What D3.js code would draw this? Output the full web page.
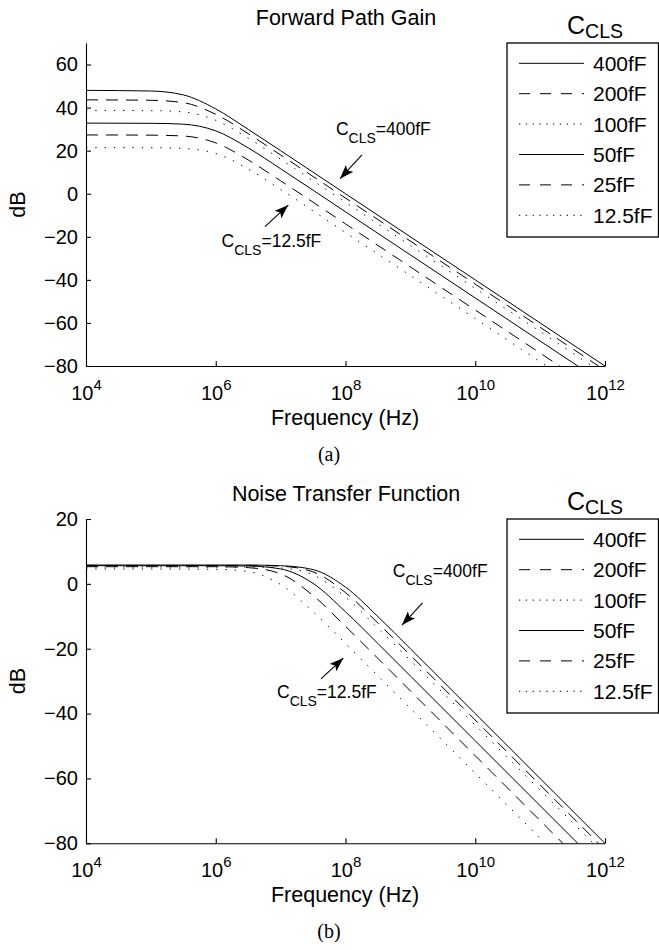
<!DOCTYPE html>
<html>
<head>
<meta charset="utf-8">
<script src="https://cdn.jsdelivr.net/npm/d3@7"></script>
<style>
  body { margin: 0; background: #fff; }
  text { font-family: "Liberation Sans", Arial, Helvetica, sans-serif; fill: #000; }
</style>
</head>
<body>
<svg id="chart" width="659" height="950"></svg>
<script>
// DATA
const capLabels = ['400fF', '200fF', '100fF', '50fF', '25fF', '12.5fF'];
const freqTicks = [1e4, 1e6, 1e8, 1e10, 1e12];

// (a) forward path gain, dB at 10^fwdExp Hz
const fwdExp = [4, 5, 5.5, 6, 6.5, 7, 8, 10, 12];
const fwd400 = [48.0, 47.7, 45.9, 39.4, 29.9, 20.0, 0.0, -40.0, -80.0];
const fwd200 = [43.6, 43.4, 42.3, 36.9, 27.9, 18.0, -2.0, -42.0, -82.0];
const fwd100 = [38.7, 38.6, 38.0, 34.1, 25.8, 16.0, -4.0, -44.0, -84.0];
const fwd50 = [32.8, 32.7, 32.3, 29.2, 21.3, 11.6, -8.4, -48.4, -88.4];
const fwd25 = [27.3, 27.2, 26.8, 23.6, 15.7, 6.0, -14.0, -54.0, -94.0];
const fwd12 = [21.4, 21.4, 21.0, 18.7, 11.5, 2.0, -18.0, -58.0, -98.0];
const fwdTicks = [-80, -60, -40, -20, 0, 20, 40, 60];

// (b) noise transfer function
const ntfExp = [4, 6, 6.5, 7, 7.5, 8, 8.5, 9, 10, 12];
const ntf400 = [5.8, 5.8, 5.8, 5.6, 4.4, -1.0, -10.1, -20.0, -40.0, -80.0];
const ntf200 = [5.7, 5.7, 5.7, 5.45, 3.7, -2.7, -12.1, -22.0, -42.0, -82.0];
const ntf100 = [5.2, 5.2, 5.2, 4.9, 2.75, -4.1, -13.7, -23.6, -43.6, -83.6];
const ntf50 = [5.6, 5.6, 5.5, 4.6, 0.15, -8.6, -18.4, -28.4, -48.4, -88.4];
const ntf25 = [5.3, 5.3, 5.0, 3.1, -3.6, -13.1, -23.0, -33.0, -53.0, -93.0];
const ntf12 = [4.6, 4.5, 3.8, -0.2, -8.6, -18.4, -28.4, -38.4, -58.4, -98.4];
const ntfTicks = [-80, -60, -40, -20, 0, 20];

// annotations: text anchor and arrow (from -> to), in log10(Hz) / dB
const fwdNotes = [
  { label: '400fF', tx: 7.853, ty: 27.3, fx: 8.254, fy: 18.0, ax: 7.915, ay: 7.0 },
  { label: '12.5fF', tx: 6.09, ty: -24.6, fx: 6.759, fy: -15.3, ax: 7.118, ay: -5.25 }
];
const ntfNotes = [
  { label: '400fF', tx: 8.729, ty: 2.0, fx: 9.187, fy: -5.9, ax: 8.871, ay: -12.7 },
  { label: '12.5fF', tx: 6.944, ty: -35.3, fx: 7.622, fy: -29.3, ax: 7.966, ay: -22.9 }
];

// line styles per series
const plotDash = [null, '12,8', '1.3,8', null, '12,8', '1.3,8'];
const legendDash = [null, '11,10', '1.3,5.5', null, '11,10', '1.3,5.5'];

const svg = d3.select('#chart');
const defs = svg.append('defs');
defs.append('marker')
  .attr('id', 'arrow')
  .attr('viewBox', '0 0 14 10')
  .attr('refX', 14)
  .attr('refY', 5)
  .attr('markerUnits', 'userSpaceOnUse')
  .attr('markerWidth', 14)
  .attr('markerHeight', 10)
  .attr('orient', 'auto')
  .append('path')
    .attr('d', 'M0,0 L14,5 L0,10 L3,5 Z')
    .attr('fill', '#000');

const plotLeft = 86;
const plotRight = 605;

const drawPanel = ({ id, top, bottom, yDomain, yTicks, title, caption, freqExp, series, notes }) => {
  const x = d3.scaleLog().domain([1e4, 1e12]).range([plotLeft, plotRight]);
  const y = d3.scaleLinear().domain(yDomain).range([bottom, top]);
  const g = svg.append('g');

  defs.append('clipPath').attr('id', 'clip-' + id)
    .append('rect')
      .attr('x', plotLeft).attr('y', top)
      .attr('width', plotRight - plotLeft).attr('height', bottom - top);

  // curves
  const line = d3.line()
    .x((d, i) => x(10 ** freqExp[i]))
    .y(d => y(d))
    .curve(d3.curveMonotoneX);

  g.append('g')
    .attr('clip-path', `url(#clip-${id})`)
    .selectAll('path')
    .data(series)
    .enter()
    .append('path')
      .attr('d', line)
      .attr('fill', 'none')
      .attr('stroke', '#000')
      .attr('stroke-width', 1)
      .attr('stroke-dasharray', (d, i) => plotDash[i]);

  // axes
  const yAxis = d3.axisLeft(y).tickValues(yTicks).tickSizeInner(-5).tickSizeOuter(0).tickPadding(8)
    .tickFormat(d => d < 0 ? '\u2212' + Math.abs(d) : d);
  g.append('g')
    .attr('transform', `translate(${plotLeft},0)`)
    .call(yAxis)
    .call(a => a.selectAll('text').attr('font-size', 20).attr('font-family', null))
    .call(a => a.selectAll('path, line').attr('stroke', '#000').attr('stroke-width', 1.1));

  const xAxis = d3.axisBottom(x).tickValues(freqTicks).tickSizeInner(-5).tickSizeOuter(0);
  const xa = g.append('g')
    .attr('transform', `translate(0,${bottom})`)
    .call(xAxis)
    .call(a => a.selectAll('path, line').attr('stroke', '#000').attr('stroke-width', 1.1));
  xa.selectAll('.tick text').remove();
  const lbl = xa.selectAll('.tick').append('text')
    .attr('y', 34)
    .attr('text-anchor', 'middle')
    .attr('font-family', null)
    .attr('font-size', 20);
  lbl.append('tspan').text('10');
  lbl.append('tspan').attr('dy', -10).attr('font-size', 15).text(d => Math.round(Math.log10(d)));

  // labels
  svg.append('text')
    .attr('x', 346).attr('y', top - 18)
    .attr('text-anchor', 'middle')
    .attr('font-size', 21.5)
    .text(title);
  svg.append('text')
    .attr('x', 345).attr('y', bottom + 58.5)
    .attr('text-anchor', 'middle')
    .attr('font-size', 21.5)
    .text('Frequency (Hz)');
  svg.append('text')
    .attr('transform', `translate(25,${(top + bottom) / 2}) rotate(-90)`)
    .attr('text-anchor', 'middle')
    .attr('font-size', 21.5)
    .text('dB');
  svg.append('text')
    .attr('x', 329).attr('y', bottom + 95)
    .attr('text-anchor', 'middle')
    .attr('font-size', 20)
    .style('font-family', '"Liberation Serif", "Times New Roman", serif')
    .text(caption);

  // annotations
  notes.forEach(n => {
    const t = svg.append('text')
      .attr('x', x(10 ** n.tx)).attr('y', y(n.ty))
      .attr('font-size', 17.5);
    t.append('tspan').text('C');
    t.append('tspan').attr('dy', 8).attr('font-size', 14).text('CLS');
    t.append('tspan').attr('dy', -8).text('=' + n.label);
    svg.append('line')
      .attr('x1', x(10 ** n.fx)).attr('y1', y(n.fy))
      .attr('x2', x(10 ** n.ax)).attr('y2', y(n.ay))
      .attr('stroke', '#000')
      .attr('stroke-width', 1.1)
      .attr('marker-end', 'url(#arrow)');
  });

  // legend
  const legTop = top;
  const leg = svg.append('g');
  leg.append('rect')
    .attr('x', 507).attr('y', legTop)
    .attr('width', 151.5).attr('height', 194)
    .attr('fill', '#fff')
    .attr('stroke', '#000')
    .attr('stroke-width', 1.3);
  const lt = leg.append('text').attr('x', 567).attr('y', legTop - 9);
  lt.append('tspan').attr('font-size', 25).text('C');
  lt.append('tspan').attr('font-size', 19.5).attr('dy', 4).text('CLS');

  const rows = leg.selectAll('.row')
    .data(capLabels)
    .enter()
    .append('g')
      .classed('row', true)
      .attr('transform', (d, i) => `translate(0,${legTop + 20.3 + i * 30.4})`);
  rows.append('line')
    .attr('x1', 519).attr('x2', 584)
    .attr('stroke', '#000')
    .attr('stroke-width', 1)
    .attr('stroke-dasharray', (d, i) => legendDash[i]);
  rows.append('text')
    .attr('x', 593)
    .attr('dy', '0.36em')
    .attr('font-size', 21)
    .text(d => d);
};

drawPanel({
  id: 'a', top: 43, bottom: 366, yDomain: [-80, 70], yTicks: fwdTicks,
  title: 'Forward Path Gain', caption: '(a)', freqExp: fwdExp,
  series: [fwd400, fwd200, fwd100, fwd50, fwd25, fwd12], notes: fwdNotes
});
drawPanel({
  id: 'b', top: 519, bottom: 843.3, yDomain: [-80, 20], yTicks: ntfTicks,
  title: 'Noise Transfer Function', caption: '(b)', freqExp: ntfExp,
  series: [ntf400, ntf200, ntf100, ntf50, ntf25, ntf12], notes: ntfNotes
});
</script>
</body>
</html>
